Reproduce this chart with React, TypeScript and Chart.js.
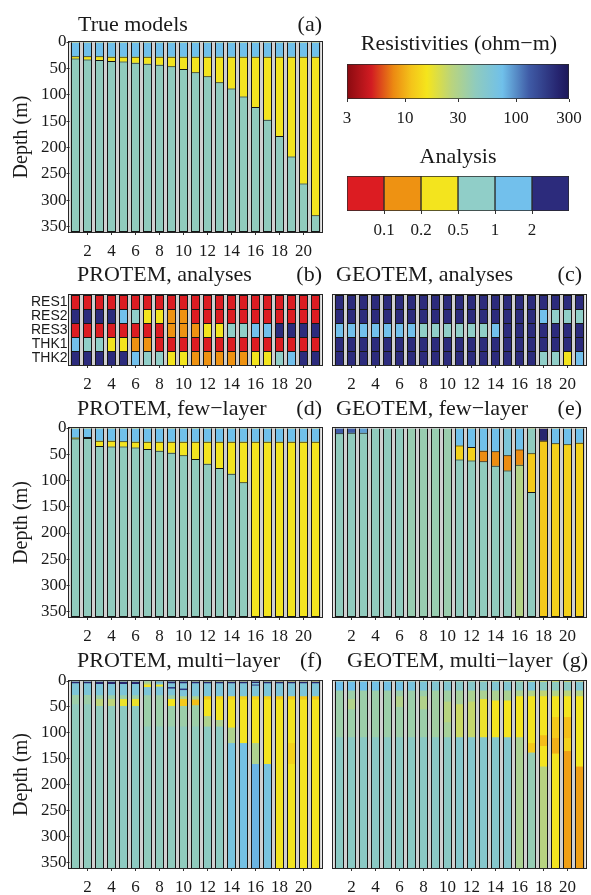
import React, { useEffect, useRef } from 'react';
import { Chart, registerables } from 'chart.js';

Chart.register(...registerables);

// ---------------- data ----------------
const columnLabels = ['1', '2', '3', '4', '5', '6', '7', '8', '9', '10', '11', '12', '13', '14', '15', '16', '17', '18', '19', '20', '21'];
const depthTicks = [0, 50, 100, 150, 200, 250, 300, 350];
const depthMax = 360;
const resistivityTicks = [3, 10, 30, 100, 300];
const analysisBreaks = [0.1, 0.2, 0.5, 1, 2];
const analysisColors = ['#dc1c22', '#ee9212', '#f3e41e', '#90cec8', '#72c0ec', '#2c2b7c'];
const parameterRows = ['RES1', 'RES2', 'RES3', 'THK1', 'THK2'];

// True models: three layers per column
const trueLayer1Bottom = [29, 29, 29, 30, 30, 30, 30, 30, 30, 30, 30, 30, 30, 30, 30, 30, 30, 30, 30, 30, 30];
const trueLayer2Bottom = [33, 35, 36, 38, 39, 41, 43, 45, 48, 53, 59, 67, 78, 90, 105, 125, 149, 180, 219, 270, 330];
const trueResistivity = [75, 16, 43];

// Each column: list of [bottom depth (m), resistivity (ohm-m)]
const protemFewLayer: number[][][] = [
  [[20, 75], [22, 16], [360, 43]],
  [[19, 75], [21, 16], [360, 43]],
  [[26, 75], [36, 16], [360, 43]],
  [[26, 75], [37, 16], [360, 43]],
  [[27, 75], [37, 16], [360, 43]],
  [[28, 75], [39, 16], [360, 43]],
  [[28, 75], [42, 16], [360, 43]],
  [[28, 75], [45, 16], [360, 43]],
  [[28, 75], [49, 16], [360, 43]],
  [[28, 75], [54, 16], [360, 43]],
  [[28, 75], [61, 16], [360, 43]],
  [[28, 75], [70, 16], [360, 43]],
  [[28, 75], [78, 16], [360, 43]],
  [[28, 75], [89, 16], [360, 43]],
  [[28, 75], [105, 16], [360, 43]],
  [[28, 75], [360, 16]],
  [[28, 75], [360, 16]],
  [[28, 75], [360, 16]],
  [[28, 75], [360, 16]],
  [[28, 75], [360, 16]],
  [[28, 75], [360, 16]],
];

const geotemFewLayer: number[][][] = [
  [[12, 130], [360, 43]],
  [[11, 130], [360, 43]],
  [[11, 90], [360, 43]],
  [[360, 43]],
  [[360, 43]],
  [[360, 43]],
  [[360, 39]],
  [[360, 39]],
  [[360, 39]],
  [[360, 38]],
  [[35, 75], [62, 13], [360, 43]],
  [[38, 75], [64, 13], [360, 43]],
  [[45, 75], [65, 8], [360, 43]],
  [[46, 75], [74, 8], [360, 43]],
  [[54, 60], [83, 8], [360, 43]],
  [[43, 75], [72, 8], [360, 28]],
  [[50, 43], [124, 12], [360, 43]],
  [[26, 240], [360, 12]],
  [[31, 75], [360, 13]],
  [[33, 75], [360, 13]],
  [[30, 75], [360, 13]],
];

const protemMultiLayer: number[][][] = [
  [[5, 240], [27, 60], [45, 37], [360, 43]],
  [[5, 240], [27, 60], [45, 37], [360, 43]],
  [[6, 240], [28, 60], [35, 37], [48, 26], [360, 43]],
  [[6, 240], [28, 60], [35, 37], [48, 26], [360, 43]],
  [[6, 240], [28, 60], [35, 37], [48, 17], [360, 45]],
  [[6, 240], [28, 60], [35, 37], [48, 17], [360, 45]],
  [[3, 60], [7, 28], [12, 16], [28, 60], [88, 37], [360, 43]],
  [[3, 120], [7, 60], [11, 16], [28, 60], [88, 37], [360, 43]],
  [[5, 240], [12, 60], [15, 200], [28, 60], [35, 37], [48, 16], [88, 37], [360, 43]],
  [[5, 240], [15, 60], [18, 200], [30, 60], [35, 28], [48, 12], [88, 37], [360, 43]],
  [[5, 240], [30, 60], [36, 30], [47, 11], [88, 37], [360, 43]],
  [[5, 240], [30, 60], [36, 12], [68, 16], [88, 30], [360, 45]],
  [[5, 240], [30, 60], [36, 13], [75, 16], [88, 30], [360, 45]],
  [[5, 240], [30, 60], [36, 13], [90, 16], [120, 30], [360, 65]],
  [[5, 240], [30, 60], [36, 13], [120, 16], [360, 70]],
  [[4, 240], [7, 60], [9, 200], [30, 60], [36, 13], [120, 16], [160, 30], [360, 80]],
  [[5, 240], [30, 60], [36, 13], [160, 16], [360, 65]],
  [[5, 240], [30, 60], [36, 12], [48, 16], [360, 16]],
  [[5, 240], [30, 60], [36, 12], [120, 16], [160, 13], [360, 16]],
  [[5, 240], [30, 60], [36, 12], [360, 16]],
  [[5, 240], [30, 60], [36, 12], [48, 16], [360, 16]],
];

const geotemMultiLayer: number[][][] = [
  [[19, 75], [109, 37], [360, 47]],
  [[19, 75], [35, 37], [55, 29], [109, 37], [360, 47]],
  [[19, 75], [109, 37], [360, 47]],
  [[19, 70], [109, 37], [360, 47]],
  [[19, 70], [109, 37], [360, 47]],
  [[19, 70], [30, 37], [50, 29], [109, 37], [360, 47]],
  [[19, 65], [109, 37], [360, 47]],
  [[19, 60], [30, 37], [55, 29], [109, 37], [360, 47]],
  [[19, 55], [109, 35], [360, 47]],
  [[19, 55], [40, 35], [80, 27], [109, 33], [360, 47]],
  [[19, 50], [45, 33], [109, 23], [360, 52]],
  [[19, 50], [40, 31], [109, 24], [360, 52]],
  [[19, 50], [35, 31], [109, 17], [360, 52]],
  [[19, 55], [38, 31], [109, 16], [360, 52]],
  [[19, 55], [38, 31], [109, 16], [360, 52]],
  [[19, 45], [30, 30], [109, 16], [360, 31]],
  [[19, 60], [30, 28], [120, 16], [138, 12], [360, 40]],
  [[19, 45], [30, 25], [105, 16], [125, 11], [165, 16], [360, 27]],
  [[19, 45], [30, 28], [70, 16], [110, 12], [140, 10], [360, 16]],
  [[19, 45], [30, 26], [70, 16], [110, 11], [135, 13], [360, 9]],
  [[19, 55], [30, 28], [165, 16], [360, 9]],
];

// Analysis values (rows RES1..THK2, columns 1..21)
const protemAnalysis: number[][] = [
  [0.05, 0.05, 0.05, 0.05, 0.05, 0.05, 0.05, 0.05, 0.05, 0.05, 0.05, 0.05, 0.05, 0.05, 0.05, 0.05, 0.05, 0.05, 0.05, 0.05, 0.05],
  [3, 3, 3, 3, 1.5, 0.7, 0.3, 0.3, 0.15, 0.15, 0.05, 0.05, 0.05, 0.05, 0.05, 0.05, 0.05, 0.05, 0.05, 0.05, 0.05],
  [0.05, 0.05, 0.05, 0.05, 0.05, 0.05, 0.05, 0.05, 0.15, 0.15, 0.15, 0.3, 0.3, 0.7, 0.7, 1.5, 1.5, 3, 3, 3, 3],
  [1.5, 0.7, 0.7, 0.3, 0.3, 0.15, 0.15, 0.05, 0.05, 0.05, 0.05, 0.05, 0.05, 0.05, 0.05, 0.05, 0.05, 0.05, 0.05, 0.05, 0.05],
  [3, 3, 3, 3, 3, 1.5, 0.7, 0.7, 0.3, 0.3, 0.15, 0.15, 0.15, 0.15, 0.15, 0.3, 0.3, 0.7, 1.5, 3, 3],
];
const geotemAnalysis: number[][] = [
  [3, 3, 3, 3, 3, 3, 3, 3, 3, 3, 3, 3, 3, 3, 3, 3, 3, 3, 3, 3, 3],
  [3, 3, 3, 3, 3, 3, 3, 3, 3, 3, 3, 3, 3, 3, 3, 3, 3, 1.5, 0.7, 0.7, 0.7],
  [1.5, 1.5, 1.5, 1.5, 1.5, 1.5, 1.5, 0.7, 0.7, 0.7, 0.7, 0.7, 0.7, 1.5, 3, 3, 3, 3, 3, 3, 3],
  [3, 3, 3, 3, 3, 3, 3, 3, 3, 3, 3, 3, 3, 3, 3, 3, 3, 3, 3, 3, 3],
  [3, 3, 3, 3, 3, 3, 3, 3, 3, 3, 3, 3, 3, 3, 3, 3, 3, 0.7, 0.7, 0.3, 1.5],
];

// ---------------- colour maps ----------------
const resistivityStops: [number, string][] = [
  [0, '#8a0a10'],
  [0.11, '#d21c22'],
  [0.21, '#ec8a12'],
  [0.29, '#f4c41a'],
  [0.36, '#f5e51c'],
  [0.47, '#bad47c'],
  [0.58, '#8fcbbe'],
  [0.7, '#70c0ea'],
  [0.82, '#3f5ba6'],
  [0.95, '#262570'],
  [1, '#1c1858'],
];

function hexRgb(h: string): number[] {
  return [1, 3, 5].map((i) => parseInt(h.slice(i, i + 2), 16));
}

function resistivityColor(r: number): string {
  const t = Math.min(1, Math.max(0, Math.log(r / 3) / Math.log(100)));
  for (let i = 1; i < resistivityStops.length; i++) {
    const [t1, c1] = resistivityStops[i];
    if (t <= t1) {
      const [t0, c0] = resistivityStops[i - 1];
      const f = (t - t0) / (t1 - t0);
      const a = hexRgb(c0);
      const b = hexRgb(c1);
      const m = a.map((v, k) => Math.round(v + (b[k] - v) * f));
      return `rgb(${m[0]},${m[1]},${m[2]})`;
    }
  }
  return resistivityStops[resistivityStops.length - 1][1];
}

function analysisColor(v: number): string {
  return analysisColors[analysisBreaks.filter((b) => v >= b).length];
}

// ---------------- dataset builders ----------------
const trueModels: number[][][] = columnLabels.map((_, i) => [
  [trueLayer1Bottom[i], trueResistivity[0]],
  [trueLayer2Bottom[i], trueResistivity[1]],
  [depthMax, trueResistivity[2]],
]);

const BAR_PCT = 0.75;
const EDGE = '#161616';

// Each layer is a floating bar from the surface to its bottom; shallower layers are drawn
// on top of deeper ones (dataset 0 is drawn last), so no seams appear between layers.
function layerDatasets(cols: number[][][], separators: boolean) {
  const n = Math.max(...cols.map((c) => c.length));
  return Array.from({ length: n }, (_, k) => ({
    label: 'layer ' + (k + 1),
    data: cols.map((c) => (k < c.length ? [0, c[k][0]] : null)),
    backgroundColor: cols.map((c) => (k < c.length ? resistivityColor(c[k][1]) : 'rgba(0,0,0,0)')),
    borderColor: EDGE,
    borderWidth: separators ? { top: 0, left: 1, right: 1, bottom: 1 } : { top: 0, left: 1, right: 1, bottom: 0 },
    borderSkipped: false as const,
    barPercentage: BAR_PCT,
    categoryPercentage: 1,
    grouped: false,
  }));
}

function analysisDatasets(rows: number[][]) {
  return rows.map((vals, r) => ({
    label: parameterRows[r],
    data: vals.map(() => 1),
    backgroundColor: vals.map(analysisColor),
    borderColor: EDGE,
    borderWidth: { top: 1, left: 1, right: 1, bottom: 0 },
    borderSkipped: false as const,
    barPercentage: BAR_PCT,
    categoryPercentage: 1,
    stack: 'cells',
  }));
}

// ---------------- decoration plugin (background, frame, titles) ----------------
const decoPlugin = {
  id: 'deco',
  beforeDatasetsDraw(chart: any, _args: any, o: any) {
    if (!o || !o.background) return;
    const { ctx, chartArea: a } = chart;
    ctx.save();
    ctx.fillStyle = o.background;
    ctx.fillRect(a.left, a.top, a.right - a.left, a.bottom - a.top);
    ctx.restore();
  },
  afterDatasetsDraw(chart: any, _args: any, o: any) {
    if (!o || !o.frame) return;
    const { ctx, chartArea: a } = chart;
    const l = Math.floor(a.left) - 0.5;
    const t = Math.floor(a.top) - 0.5;
    const r = Math.ceil(a.right) + 0.5;
    const b = Math.ceil(a.bottom) + 0.5;
    ctx.save();
    ctx.strokeStyle = '#262626';
    ctx.lineWidth = 1;
    ctx.strokeRect(l, t, r - l, b - t);
    ctx.restore();
  },
  afterDraw(chart: any, _args: any, o: any) {
    if (!o) return;
    const { ctx } = chart;
    ctx.save();
    ctx.fillStyle = '#1a1a1a';
    ctx.font = `${o.titleSize || 22}px "Liberation Serif", "Times New Roman", serif`;
    ctx.textBaseline = 'alphabetic';
    if (o.title) {
      ctx.textAlign = o.titleAlign || 'left';
      ctx.fillText(o.title, o.titleX, o.baseline);
    }
    if (o.letter) {
      ctx.textAlign = 'right';
      ctx.fillText(o.letter, o.letterX, o.baseline);
    }
    ctx.restore();
  },
};

// ---------------- geometry ----------------
type ColGeom = { cx: number; cw: number; left: number; right: number };
type RowGeom = { cy: number; ch: number; top: number; bottom: number; baseline: number };

const colL: ColGeom = { cx: 0, cw: 330, left: 69.5, right: 321.5 };
const colR: ColGeom = { cx: 330, cw: 261, left: 333.5, right: 585.5 };
const rowA: RowGeom = { cy: 0, ch: 265, top: 42, bottom: 232, baseline: 31 };
const rowB: RowGeom = { cy: 265, ch: 130, top: 295, bottom: 365, baseline: 281 };
const rowD: RowGeom = { cy: 395, ch: 250, top: 428, bottom: 617, baseline: 415 };
const rowF: RowGeom = { cy: 645, ch: 250, top: 681, bottom: 868, baseline: 667 };

const SERIF = '"Liberation Serif", "Times New Roman", serif';
const SANS = '"Liberation Sans", Arial, sans-serif';
const INK = '#1a1a1a';
const tickFont = { family: SERIF, size: 17 };

function panelConfig(
  col: ColGeom,
  row: RowGeom,
  datasets: any[],
  kind: 'depth' | 'analysis',
  showY: boolean,
  title: string,
  titleX: number,
  letter: string,
  letterX: number
) {
  const stacked = kind === 'analysis';
  const yScale: any =
    kind === 'depth'
      ? {
          type: 'linear',
          min: 0,
          max: depthMax,
          reverse: true,
          stacked: false,
          afterBuildTicks: (s: any) => {
            s.ticks = depthTicks.map((v) => ({ value: v }));
          },
          ticks: { display: showY, font: tickFont, color: INK, padding: 0, autoSkip: false },
          grid: { drawOnChartArea: false, drawTicks: showY, tickLength: 3, color: '#333' },
          border: { display: false },
          title: {
            display: showY,
            text: 'Depth (m)',
            font: { family: SERIF, size: 20 },
            color: INK,
            padding: { top: 10, bottom: 0 },
          },
          afterFit: (s: any) => {
            s.width = col.left - col.cx;
          },
        }
      : {
          type: 'linear',
          min: 0,
          max: parameterRows.length,
          reverse: true,
          stacked: true,
          afterBuildTicks: (s: any) => {
            s.ticks = parameterRows.map((_, i) => ({ value: i + 0.5 }));
          },
          ticks: {
            display: showY,
            font: { family: SANS, size: 14 },
            color: INK,
            padding: 2,
            autoSkip: false,
            callback: (_v: any, i: number) => parameterRows[i],
          },
          grid: { drawOnChartArea: false, drawTicks: false },
          border: { display: false },
          afterFit: (s: any) => {
            s.width = col.left - col.cx;
          },
        };

  return {
    type: 'bar' as const,
    data: { labels: columnLabels, datasets },
    options: {
      responsive: false,
      animation: false as const,
      devicePixelRatio: 1,
      layout: { padding: { top: row.top - row.cy, right: col.cx + col.cw - col.right, left: 0, bottom: 0 } },
      scales: {
        x: {
          type: 'category',
          stacked,
          offset: true,
          afterBuildTicks: (s: any) => {
            s.ticks = s.ticks.filter((t: any) => (t.value + 1) % 2 === 0);
          },
          ticks: { font: tickFont, color: INK, padding: 6, maxRotation: 0, autoSkip: false },
          grid: { drawOnChartArea: false, drawTicks: true, tickLength: 3, offset: false, color: '#333' },
          border: { display: false },
          afterFit: (s: any) => {
            s.height = row.cy + row.ch - row.bottom;
          },
        },
        y: yScale,
      },
      plugins: {
        legend: { display: false },
        tooltip: { enabled: false },
        deco: {
          background: '#d0d0d0',
          frame: true,
          title,
          titleX: titleX - col.cx,
          letter,
          letterX: letterX - col.cx,
          baseline: row.baseline - row.cy,
          titleSize: 22,
        },
      },
    },
    plugins: [decoPlugin],
  };
}

function resistivityLegendConfig() {
  return {
    type: 'bar' as const,
    data: {
      labels: ['Resistivity'],
      datasets: [
        {
          label: 'Resistivities',
          data: [[resistivityTicks[0], resistivityTicks[resistivityTicks.length - 1]]],
          backgroundColor: (c: any) => {
            const area = c.chart.chartArea;
            if (!area) return '#ffffff';
            const g = c.chart.ctx.createLinearGradient(area.left, 0, area.right, 0);
            resistivityStops.forEach(([t, col]) => g.addColorStop(t, col));
            return g;
          },
          borderColor: '#2a2a2a',
          borderWidth: 1,
          borderSkipped: false as const,
          barPercentage: 1,
          categoryPercentage: 1,
        },
      ],
    },
    options: {
      indexAxis: 'y' as const,
      responsive: false,
      animation: false as const,
      devicePixelRatio: 1,
      layout: { padding: { top: 44, left: 17, right: 22, bottom: 0 } },
      scales: {
        x: {
          type: 'logarithmic',
          min: 3,
          max: 300,
          afterBuildTicks: (s: any) => {
            s.ticks = resistivityTicks.map((v) => ({ value: v }));
          },
          ticks: {
            font: tickFont,
            color: INK,
            padding: 6,
            maxRotation: 0,
            autoSkip: false,
            callback: (v: any) => String(v),
          },
          grid: { drawOnChartArea: false, tickLength: 3, color: '#333' },
          border: { display: false },
          afterFit: (s: any) => {
            s.height = 36;
          },
        },
        y: { display: false },
      },
      plugins: {
        legend: { display: false },
        tooltip: { enabled: false },
        deco: {
          title: 'Resistivities (ohm\u2212m)',
          titleAlign: 'center',
          titleX: 459 - 330,
          baseline: 50 - 20,
          titleSize: 22,
        },
      },
    },
    plugins: [decoPlugin],
  };
}

function analysisLegendConfig() {
  return {
    type: 'bar' as const,
    data: {
      labels: ['Analysis'],
      datasets: analysisColors.map((c, i) => ({
        label: 'class ' + i,
        data: [1],
        backgroundColor: c,
        borderColor: '#2a2a2a',
        borderWidth: 1,
        borderSkipped: false as const,
        barPercentage: 1,
        categoryPercentage: 1,
        stack: 'legend',
      })),
    },
    options: {
      indexAxis: 'y' as const,
      responsive: false,
      animation: false as const,
      devicePixelRatio: 1,
      layout: { padding: { top: 41, left: 17, right: 22, bottom: 0 } },
      scales: {
        x: {
          type: 'linear',
          min: 0,
          max: analysisColors.length,
          stacked: true,
          afterBuildTicks: (s: any) => {
            s.ticks = analysisBreaks.map((_, i) => ({ value: i + 1 }));
          },
          ticks: {
            font: tickFont,
            color: INK,
            padding: 6,
            maxRotation: 0,
            autoSkip: false,
            callback: (_v: any, i: number) => String(analysisBreaks[i]),
          },
          grid: { drawOnChartArea: false, tickLength: 3, color: '#333' },
          border: { display: false },
          afterFit: (s: any) => {
            s.height = 39;
          },
        },
        y: { display: false, stacked: true },
      },
      plugins: {
        legend: { display: false },
        tooltip: { enabled: false },
        deco: {
          title: 'Analysis',
          titleAlign: 'center',
          titleX: 458 - 330,
          baseline: 163 - 135,
          titleSize: 22,
        },
      },
    },
    plugins: [decoPlugin],
  };
}

type Spec = { x: number; y: number; w: number; h: number; make: () => any };

const specs: Spec[] = [
  {
    x: colL.cx, y: rowA.cy, w: colL.cw, h: rowA.ch,
    make: () => panelConfig(colL, rowA, layerDatasets(trueModels, true), 'depth', true, 'True models', 78, '(a)', 322),
  },
  { x: 330, y: 20, w: 261, h: 115, make: resistivityLegendConfig },
  { x: 330, y: 135, w: 261, h: 115, make: analysisLegendConfig },
  {
    x: colL.cx, y: rowB.cy, w: colL.cw, h: rowB.ch,
    make: () => panelConfig(colL, rowB, analysisDatasets(protemAnalysis), 'analysis', true, 'PROTEM, analyses', 77, '(b)', 322),
  },
  {
    x: colR.cx, y: rowB.cy, w: colR.cw, h: rowB.ch,
    make: () => panelConfig(colR, rowB, analysisDatasets(geotemAnalysis), 'analysis', false, 'GEOTEM, analyses', 336, '(c)', 582),
  },
  {
    x: colL.cx, y: rowD.cy, w: colL.cw, h: rowD.ch,
    make: () => panelConfig(colL, rowD, layerDatasets(protemFewLayer, true), 'depth', true, 'PROTEM, few\u2212layer', 77, '(d)', 322),
  },
  {
    x: colR.cx, y: rowD.cy, w: colR.cw, h: rowD.ch,
    make: () => panelConfig(colR, rowD, layerDatasets(geotemFewLayer, true), 'depth', false, 'GEOTEM, few\u2212layer', 336, '(e)', 582),
  },
  {
    x: colL.cx, y: rowF.cy, w: colL.cw, h: rowF.ch,
    make: () => panelConfig(colL, rowF, layerDatasets(protemMultiLayer, false), 'depth', true, 'PROTEM, multi\u2212layer', 77, '(f)', 322),
  },
  {
    x: colR.cx, y: rowF.cy, w: colR.cw, h: rowF.ch,
    make: () => panelConfig(colR, rowF, layerDatasets(geotemMultiLayer, false), 'depth', false, 'GEOTEM, multi\u2212layer', 347, '(g)', 588),
  },
];

export default function App() {
  const refs = useRef<(HTMLCanvasElement | null)[]>([]);

  useEffect(() => {
    const charts = specs.map((s, i) => new Chart(refs.current[i] as HTMLCanvasElement, s.make()));
    return () => {
      charts.forEach((c) => c.destroy());
    };
  }, []);

  return (
    <div style={{ position: 'absolute', left: 0, top: 0, width: 591, height: 895, background: '#ffffff', overflow: 'hidden' }}>
      {specs.map((s, i) => (
        <canvas
          key={i}
          ref={(el) => {
            refs.current[i] = el;
          }}
          width={s.w}
          height={s.h}
          style={{ position: 'absolute', left: s.x, top: s.y, width: s.w, height: s.h, display: 'block' }}
        />
      ))}
    </div>
  );
}
